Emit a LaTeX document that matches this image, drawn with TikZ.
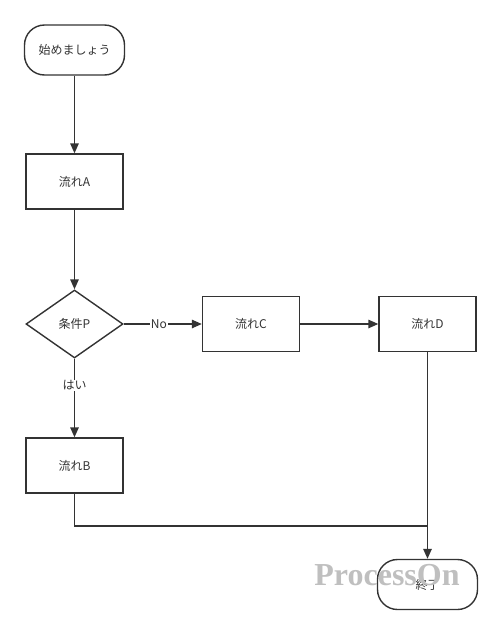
\documentclass[tikz,border=0pt]{standalone}
\usepackage{fontspec}
\setmainfont{Noto Sans CJK JP}
\newfontfamily\markfont{Liberation Serif}
\usepackage{tikz}
\usetikzlibrary{positioning, shapes.geometric, arrows.meta}

\definecolor{linegray}{HTML}{333333}
\tikzset{
  flowbox/.style={draw=linegray, line width=1.4pt, minimum width=97pt, minimum height=55pt, font=\fontsize{12}{14}\selectfont, text=linegray},
  termbox/.style={flowbox, rounded corners=20pt, minimum width=100pt, minimum height=50pt},
  choicebox/.style={flowbox, diamond, aspect=1.43, minimum width=97pt, minimum height=68pt, inner sep=0pt},
  flowline/.style={draw=linegray, line width=1.4pt},
  flowarrow/.style={flowline, -{Triangle[length=10pt, width=8.5pt]}},
  linelabel/.style={fill=white, inner sep=1pt, font=\fontsize{12}{14}\selectfont, text=linegray}
}

\begin{document}
\begin{tikzpicture}[x=1pt, y=-1pt]
    \useasboundingbox (0,0) rectangle (502,635);

    % Left column
    \node[termbox] (start) at (74.5,50) {始めましょう};
    \node[flowbox] (flowA) at (74.5,181.5) {流れA};
    \node[choicebox] (condP) at (74.5,324) {条件P};
    \node[flowbox] (flowB) at (74.5,465.5) {流れB};

    % Right side
    \node[flowbox] (flowC) at (251,324) {流れC};
    \node[flowbox] (flowD) at (427.5,324) {流れD};
    \node[termbox] (finish) at (427.5,584.5) {終了};

    % Connectors
    \draw[flowarrow] (start) -- (flowA);
    \draw[flowarrow] (flowA) -- (condP);
    \draw[flowarrow] (condP) -- node[linelabel, pos=0.34] {はい} (flowB);
    \draw[flowarrow] (condP) -- node[linelabel, pos=0.45] {No} (flowC);
    \draw[flowarrow] (flowC) -- (flowD);
    \draw[flowarrow] (flowD) -- (finish);
    \coordinate (joinB) at (flowD.south |- 0,526);
    \draw[flowline] (flowB.south) |- (joinB);

    % Watermark
    \node[text=gray!50, font=\markfont\bfseries\fontsize{32}{34}\selectfont] (mark) at (387,575) {ProcessOn};
\end{tikzpicture}
\end{document}
